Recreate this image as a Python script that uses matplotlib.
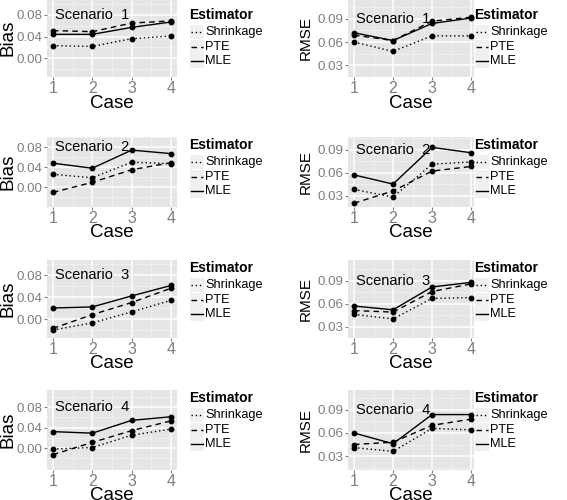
import matplotlib
matplotlib.use("Agg")
import matplotlib.pyplot as plt
from matplotlib.lines import Line2D
from matplotlib.patches import Rectangle

plt.rcParams['font.family'] = ['Liberation Sans', 'DejaVu Sans']

W, H = 567, 500

cases = [1, 2, 3, 4]
estimators = ["Shrinkage", "PTE", "MLE"]
styles = {"Shrinkage": (0, (1, 2)), "PTE": (0, (4, 3)), "MLE": "-"}

# bias, one list per estimator, one row per scenario
bias_shrink = [[0.023, 0.0215, 0.036, 0.041],
               [0.026, 0.019, 0.050, 0.047],
               [-0.020, -0.007, 0.013, 0.034],
               [-0.002, 0.001, 0.025, 0.037]]
bias_pte = [[0.051, 0.049, 0.065, 0.069],
            [-0.010, 0.010, 0.035, 0.049],
            [-0.017, 0.008, 0.030, 0.056],
            [-0.013, 0.011, 0.034, 0.053]]
bias_mle = [[0.044, 0.044, 0.057, 0.067],
            [0.048, 0.038, 0.074, 0.067],
            [0.020, 0.022, 0.042, 0.061],
            [0.032, 0.029, 0.054, 0.061]]

rmse_shrink = [[0.060, 0.048, 0.068, 0.068],
               [0.038, 0.028, 0.071, 0.074],
               [0.046, 0.040, 0.067, 0.068],
               [0.041, 0.036, 0.066, 0.064]]
rmse_pte = [[0.069, 0.062, 0.087, 0.092],
            [0.020, 0.036, 0.062, 0.068],
            [0.051, 0.049, 0.076, 0.086],
            [0.045, 0.048, 0.070, 0.078]]
rmse_mle = [[0.072, 0.062, 0.084, 0.091],
            [0.057, 0.045, 0.093, 0.086],
            [0.057, 0.052, 0.082, 0.088],
            [0.060, 0.046, 0.084, 0.084]]

scenarios = ["Scenario  1", "Scenario  2", "Scenario  3", "Scenario  4"]

# layout in pixels
row_top = [-2, 137, 260, 390]
row_bot = [77, 207, 338, 470]
bias_lim = [(-0.0353, 0.1116), (-0.039, 0.0976), (-0.0345, 0.1073), (-0.0429, 0.1132)]
rmse_lim = [(0.016, 0.1168), (0.0172, 0.1066), (0.0157, 0.1174), (0.0118, 0.116)]
col_left = [47, 348]
col_right = [177, 474]
col_xlim = [(0.85, 4.15), (0.846, 4.075)]
ylab_x = [8, 306]
ylab_size = [13.5, 11]
leg_x = [189, 474]
leg_title_y = [15, 145, 268, 398]

fig = plt.figure(figsize=(W / 100, H / 100), dpi=100)


def fx(p):
    return p / W


def fy(p):
    return 1 - p / H


def draw_panel(ax, series, xlim, ylim, yticks, yminor, ylabel, ysize, label,
               ann_y, ylx, width, height):
    ax.set_facecolor('#E5E5E5')
    for s in ax.spines.values():
        s.set_visible(False)
    ax.set_xlim(*xlim)
    ax.set_ylim(*ylim)
    ax.set_xticks(cases)
    ax.set_xticks([1.5, 2.5, 3.5], minor=True)
    ax.set_yticks(yticks)
    ax.set_yticks(yminor, minor=True)
    ax.set_yticklabels(["%.2f" % t for t in yticks])
    ax.grid(which='minor', color='#F2F2F2', lw=0.6)
    ax.grid(which='major', color='white', lw=1.1)
    ax.set_axisbelow(True)
    ax.tick_params(which='minor', length=0)
    ax.tick_params(which='major', length=2.3, width=0.8, color='#7F7F7F',
                   labelcolor='#7F7F7F', pad=0.8)
    ax.tick_params(axis='y', labelsize=9.6)
    ax.tick_params(axis='x', labelsize=11.5, pad=0.3)
    for name, vals in zip(estimators, series):
        ax.plot(cases, vals, color='black', lw=1.0, ls=styles[name],
                marker='o', ms=3.2)
    ax.text(2, ann_y, label, ha='center', va='center', fontsize=10.5)
    ax.set_xlabel("Case", fontsize=13.5, va='center')
    ax.xaxis.set_label_coords(0.5, -26 / height)
    ax.set_ylabel(ylabel, fontsize=ysize, va='center')
    ax.yaxis.set_label_coords(ylx / width, 0.5)


def draw_legend(x0, y0):
    fig.text(fx(x0), fy(y0), "Estimator", fontsize=10, fontweight='bold',
             ha='left', va='center')
    offs = [17, 32, 46]
    for name, dy in zip(estimators, offs):
        yc = y0 + dy
        fig.add_artist(Rectangle((fx(x0 + 1), fy(yc + 7)), 14 / W, 14 / H,
                                 transform=fig.transFigure, fc='#F0F0F0',
                                 ec='none'))
        fig.add_artist(Line2D([fx(x0 + 2), fx(x0 + 14)], [fy(yc), fy(yc)],
                              transform=fig.transFigure, color='black',
                              lw=1.0, ls=styles[name]))
        fig.text(fx(x0 + 16), fy(yc), name, fontsize=9.2, ha='left',
                 va='center')


for r in range(4):
    h = row_bot[r] - row_top[r]
    for c in range(2):
        w = col_right[c] - col_left[c]
        ax = fig.add_axes([fx(col_left[c]), fy(row_bot[r]), w / W, h / H])
        ylx = ylab_x[c] - col_left[c]
        if c == 0:
            draw_panel(ax, [bias_shrink[r], bias_pte[r], bias_mle[r]],
                       col_xlim[c], bias_lim[r], [0.00, 0.04, 0.08],
                       [-0.02, 0.02, 0.06, 0.10], "Bias", ylab_size[c],
                       scenarios[r], 0.08, ylx, w, h)
        else:
            draw_panel(ax, [rmse_shrink[r], rmse_pte[r], rmse_mle[r]],
                       col_xlim[c], rmse_lim[r], [0.03, 0.06, 0.09],
                       [0.015, 0.045, 0.075, 0.105], "RMSE", ylab_size[c],
                       scenarios[r], 0.09, ylx, w, h)
        draw_legend(leg_x[c], leg_title_y[r])

fig.savefig("out.png", dpi=100)
